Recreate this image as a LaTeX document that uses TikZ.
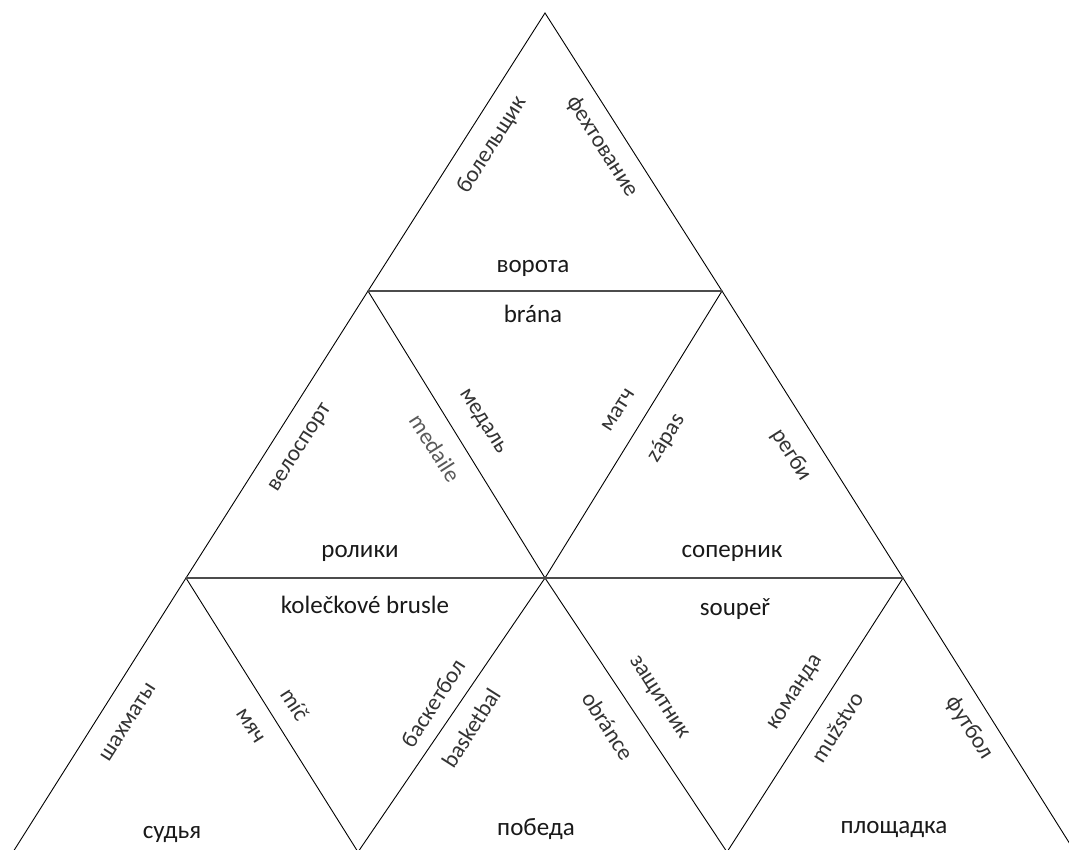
\documentclass[tikz,border=0pt]{standalone}
\usepackage{fontspec}
\setmainfont{Carlito}
\begin{document}
\begin{tikzpicture}[x=1pt,y=-1pt,
  edge/.style={draw=black, line width=0.9pt, line join=miter},
  baseline/.style={draw=black!70, line width=1.5pt},
  hword/.style={font=\fontsize{25}{30}\selectfont, text=black!90, inner sep=0pt, anchor=base},
  upword/.style={font=\fontsize{23}{28}\selectfont, text=black!80, inner sep=0pt, rotate=57.5},
  downword/.style={font=\fontsize{23}{28}\selectfont, text=black!80, inner sep=0pt, rotate=-57.5}]
\useasboundingbox (0,0) rectangle (1069,850);
\clip (0,0) rectangle (1069,850);
% vertices
\coordinate (A) at (545,13);
\coordinate (B1) at (368,291);
\coordinate (B2) at (722,291);
\coordinate (C1) at (186,578);
\coordinate (C2) at (545,578);
\coordinate (C3) at (903,578);
\coordinate (D1) at (13,852);
\coordinate (D2) at (358,852);
\coordinate (D3) at (727,852);
\coordinate (D4) at (1075,852);
% slanted edges
\draw[edge] (B1) -- (A) -- (B2);
\draw[edge] (C1) -- (B1) -- (C2) -- (B2) -- (C3);
\draw[edge] (D1) -- (C1) -- (D2) -- (C2) -- (D3) -- (C3) -- (D4);
% horizontal edges
\draw[baseline] (B1) -- (B2);
\draw[baseline] (C1) -- (C3);
% horizontal words
\node[hword] (vorota) at (533,273) {ворота};
\node[hword] (brana) at (533,323) {brána};
\node[hword] (roliki) at (360,557) {ролики};
\node[hword] (sopernik) at (732,557) {соперник};
\node[hword] (brusle) at (365,613) {kolečkové brusle};
\node[hword] (souper) at (735,615) {soupeř};
\node[hword] (sudya) at (172,838) {судья};
\node[hword] (pobeda) at (536,835) {победа};
\node[hword] (ploshchadka) at (894,833) {площадка};
% slanted words
\node[upword] (bolelshchik) at (492,145) {болельщик};
\node[downword] (fekhtovanie) at (602,147) {фехтование};
\node[upword] (velosport) at (301,448) {велоспорт};
\node[downword, text=black!65] (medaile) at (435,448) {medaile};
\node[downword] (medal) at (482,422) {медаль};
\node[upword] (match) at (618,410) {матч};
\node[upword] (zapas) at (666,438) {zápas};
\node[downword] (regbi) at (791,455) {регби};
\node[upword] (shakhmaty) at (128,722) {шахматы};
\node[downword] (myach) at (250,726) {мяч};
\node[downword] (mic) at (295,704) {míč};
\node[upword] (basketbol) at (433,703) {баскетбол};
\node[upword] (basketbal) at (471,728) {basketbal};
\node[downword] (obrance) at (608,726) {obránce};
\node[downword] (zashchitnik) at (658,698) {защитник};
\node[upword] (komanda) at (796,693) {команда};
\node[upword] (muzstvo) at (837,727) {mužstvo};
\node[downword] (futbol) at (969,728) {футбол};
\end{tikzpicture}
\end{document}
